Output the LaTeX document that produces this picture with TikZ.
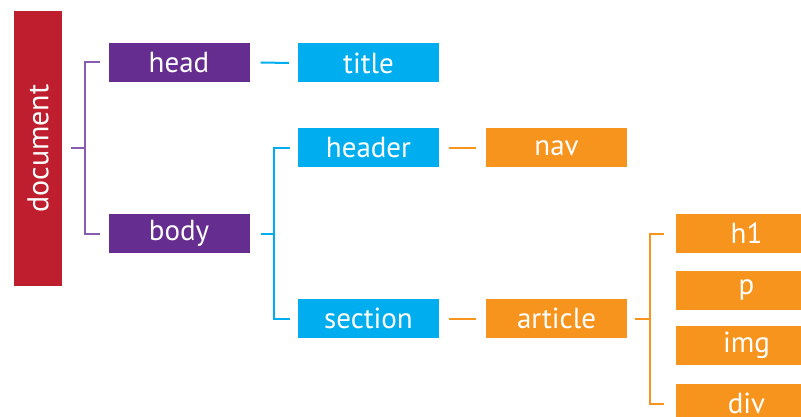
\documentclass[tikz,border=0pt]{standalone}
\usepackage{fontspec}
\setmainfont{PT Sans}
\usetikzlibrary{calc}
\definecolor{docred}{HTML}{BE1E2D}
\definecolor{hpurple}{HTML}{662D91}
\definecolor{lpurple}{HTML}{8A5CB0}
\definecolor{hblue}{HTML}{00AEEF}
\definecolor{horange}{HTML}{F7941D}
\tikzset{
  box/.style={minimum width=141pt,minimum height=39pt,inner sep=0pt,text=white,
    font=\fontsize{29}{31}\selectfont},
  pbox/.style={box,fill=hpurple},
  bbox/.style={box,fill=hblue},
  obox/.style={box,fill=horange},
  pline/.style={draw=lpurple,line width=2pt},
  bline/.style={draw=hblue,line width=2pt},
  oline/.style={draw=horange,line width=2pt},
}
\begin{document}
\begin{tikzpicture}[x=1pt,y=-1pt]
\useasboundingbox (0,0) rectangle (801,417);
\clip (0,0) rectangle (801,417);
\node[fill=docred,minimum width=275pt,minimum height=48pt,inner sep=0pt,text=white,
  font=\fontsize{30}{32}\selectfont,rotate=90] (doc) at (38,148.5) {document};
\node[pbox] (head) at (179,62.5) {head};
\node[pbox] (body) at (179,233.5) {body};
\node[bbox] (title) at (368.5,63) {title};
\node[bbox] (header) at (368.5,148) {header};
\node[bbox] (section) at (368.5,318.5) {section};
\node[obox] (nav) at (556.5,148) {nav};
\node[obox] (article) at (556.5,318.5) {article};
\node[obox] (h1) at (746.5,233.5) {h1};
\node[obox] (p) at (746.5,290) {p};
\node[obox] (img) at (746.5,345) {img};
\node[obox] (div) at (746.5,403.5) {div};
% document bracket
\draw[pline] ([xshift=9pt]doc.south) -- ++(14,0);
\draw[pline] ([xshift=-8pt]head.west) -| ($(doc.south)+(23,0)$) |- ([xshift=-8pt]body.west);
% head - title
\draw[bline] ([xshift=11pt]head.east) -- ([xshift=-9pt]title.west);
% body bracket
\draw[bline] ([xshift=11pt]body.east) -- ++(13,0);
\draw[bline] ([xshift=-8pt]header.west) -| ($(body.east)+(24,0)$) |- ([xshift=-8pt]section.west);
% header - nav, section - article
\draw[oline] ([xshift=10pt]header.east) -- ([xshift=-10pt]nav.west);
\draw[oline] ([xshift=10pt]section.east) -- ([xshift=-10pt]article.west);
% article bracket
\draw[oline] ([xshift=8pt]article.east) -- ++(15,0);
\draw[oline] ([xshift=-12pt]h1.west) -| ($(article.east)+(23,0)$) |- ([xshift=-12pt]div.west);
\end{tikzpicture}
\end{document}
